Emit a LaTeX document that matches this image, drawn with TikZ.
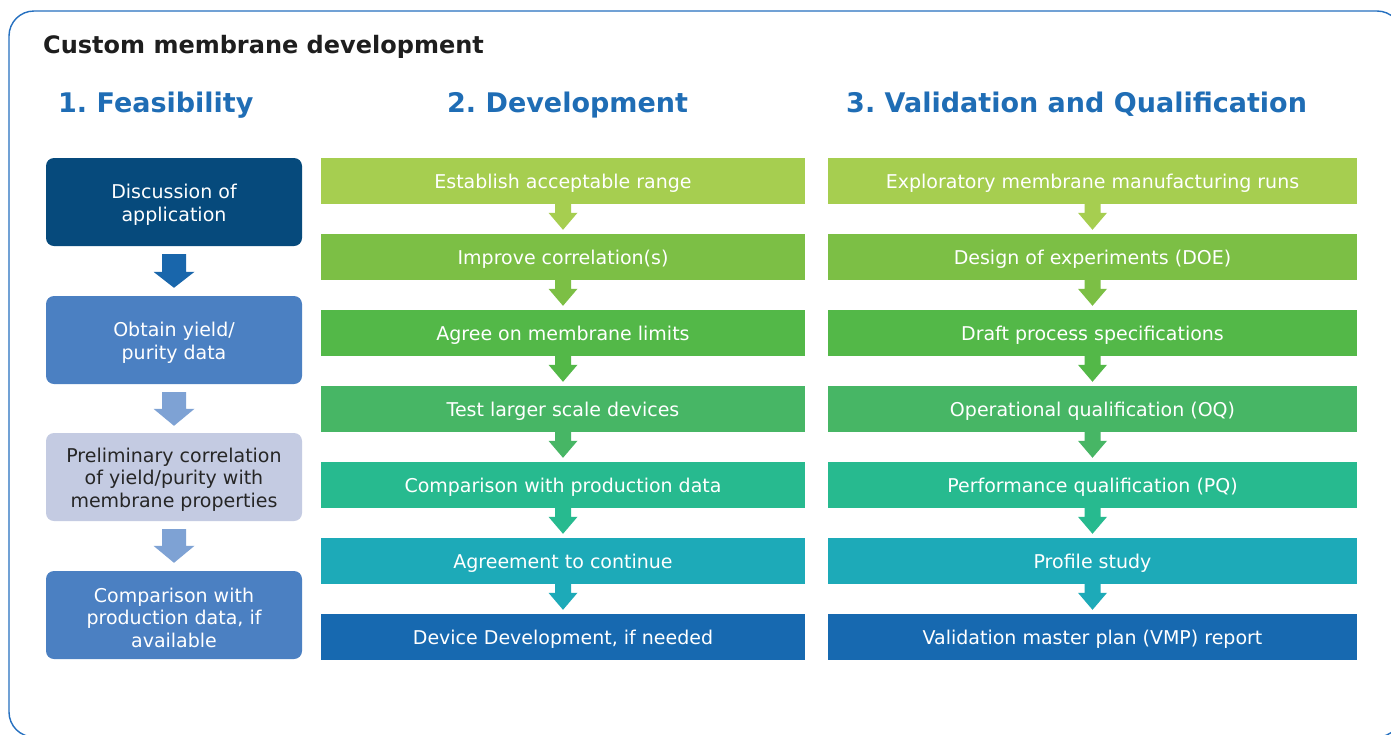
\documentclass[tikz,border=0pt]{standalone}
\usepackage{fontspec}
\setmainfont{DejaVu Sans}
\frenchspacing
\usetikzlibrary{calc}
\definecolor{framec}{HTML}{2570C0}
\definecolor{titlec}{HTML}{1E1E1E}
\definecolor{headc}{HTML}{1F6DB5}
\definecolor{navy}{HTML}{064A7C}
\definecolor{midblue}{HTML}{4B80C2}
\definecolor{lav}{HTML}{C4CBE2}
\definecolor{arrdark}{HTML}{1966AB}
\definecolor{arrlight}{HTML}{7EA2D4}
\definecolor{darktext}{HTML}{262626}
\definecolor{rA}{HTML}{A6CE50}
\definecolor{rB}{HTML}{7CBF45}
\definecolor{rC}{HTML}{53B848}
\definecolor{rD}{HTML}{47B665}
\definecolor{rE}{HTML}{27BA8F}
\definecolor{rF}{HTML}{1DAAB8}
\definecolor{rG}{HTML}{1769B0}
\newcommand{\fstrut}{\rule{0pt}{19.6pt}}
\tikzset{
  lbox/.style={rounded corners=8pt, minimum width=256pt, minimum height=88pt,
    inner sep=0pt, align=center, text=white,
    font=\fontsize{19}{22.5}\selectfont},
  mbox/.style={minimum width=484pt, minimum height=46pt, inner sep=0pt,
    text height=18pt, text depth=4pt,
    text=white, font=\fontsize{19}{22.5}\selectfont},
  rbox/.style={mbox, minimum width=529pt},
  heading/.style={anchor=base west, inner sep=0pt, text=headc,
    font=\fontsize{27}{32}\bfseries\selectfont},
}
% #1 from, #2 to, #3 half shaft, #4 half head, #5 head length, #6 top gap, #7 bottom gap, #8 colour
\newcommand{\flowarr}[8]{%
  \fill[#8] let \p1=(#1.south), \p2=(#2.north) in
    (\x1-#3pt,\y1-#6pt) -- (\x1+#3pt,\y1-#6pt) -- (\x1+#3pt,\y2+#5pt+#7pt)
    -- (\x1+#4pt,\y2+#5pt+#7pt) -- (\x1,\y2+#7pt) -- (\x1-#4pt,\y2+#5pt+#7pt)
    -- (\x1-#3pt,\y2+#5pt+#7pt) -- cycle;}
\begin{document}
\begin{tikzpicture}[x=1pt,y=-1pt]
\clip (0,0) rectangle (1391,734);
\fill[white] (0,0) rectangle (1391,734);
\draw[framec, line width=1.4pt, rounded corners=25pt] (9,11) rectangle (1402,737);

\node[anchor=base west, inner sep=0pt, text=titlec,
  font=\fontsize{24}{28}\bfseries\selectfont] (title) at (43,53) {Custom membrane development};
\node[heading] (h1) at (58,112) {1. Feasibility};
\node[heading] (h2) at (447,112) {2. Development};
\node[heading] (h3) at (846,112) {3. Validation and Qualification};

% left column
\node[lbox, fill=navy] (L1) at (174,202) {\fstrut Discussion of\\application};
\node[lbox, fill=midblue] (L2) at (174,340) {\fstrut Obtain yield/\\purity data};
\node[lbox, fill=lav, text=darktext] (L3) at (174,477) {\fstrut Preliminary correlation\\of yield/purity with\\membrane properties};
\node[lbox, fill=midblue] (L4) at (174,615) {\fstrut Comparison with\\production data, if\\available};
\flowarr{L1}{L2}{12}{20.5}{16}{8}{8}{arrdark}
\flowarr{L2}{L3}{12}{20.5}{17}{8}{7}{arrlight}
\flowarr{L3}{L4}{12}{20.5}{17}{8}{8}{arrlight}

% middle column
\node[mbox, fill=rA] (M1) at (563,181) {Establish acceptable range};
\node[mbox, fill=rB] (M2) at (563,257) {Improve correlation(s)};
\node[mbox, fill=rC] (M3) at (563,333) {Agree on membrane limits};
\node[mbox, fill=rD] (M4) at (563,409) {Test larger scale devices};
\node[mbox, fill=rE] (M5) at (563,485) {Comparison with production data};
\node[mbox, fill=rF] (M6) at (563,561) {Agreement to continue};
\node[mbox, fill=rG] (M7) at (563,637) {Device Development, if needed};
\flowarr{M1}{M2}{8}{14.5}{17}{0}{4}{rA}
\flowarr{M2}{M3}{8}{14.5}{17}{0}{4}{rB}
\flowarr{M3}{M4}{8}{14.5}{17}{0}{4}{rC}
\flowarr{M4}{M5}{8}{14.5}{17}{0}{4}{rD}
\flowarr{M5}{M6}{8}{14.5}{17}{0}{4}{rE}
\flowarr{M6}{M7}{8}{14.5}{17}{0}{4}{rF}

% right column
\node[rbox, fill=rA] (R1) at (1092.5,181) {Exploratory membrane manufacturing runs};
\node[rbox, fill=rB] (R2) at (1092.5,257) {Design of experiments (DOE)};
\node[rbox, fill=rC] (R3) at (1092.5,333) {Draft process specifications};
\node[rbox, fill=rD] (R4) at (1092.5,409) {Operational qualification (OQ)};
\node[rbox, fill=rE] (R5) at (1092.5,485) {Performance qualification (PQ)};
\node[rbox, fill=rF] (R6) at (1092.5,561) {Profile study};
\node[rbox, fill=rG] (R7) at (1092.5,637) {Validation master plan (VMP) report};
\flowarr{R1}{R2}{8}{14.5}{17}{0}{4}{rA}
\flowarr{R2}{R3}{8}{14.5}{17}{0}{4}{rB}
\flowarr{R3}{R4}{8}{14.5}{17}{0}{4}{rC}
\flowarr{R4}{R5}{8}{14.5}{17}{0}{4}{rD}
\flowarr{R5}{R6}{8}{14.5}{17}{0}{4}{rE}
\flowarr{R6}{R7}{8}{14.5}{17}{0}{4}{rF}
\end{tikzpicture}
\end{document}
